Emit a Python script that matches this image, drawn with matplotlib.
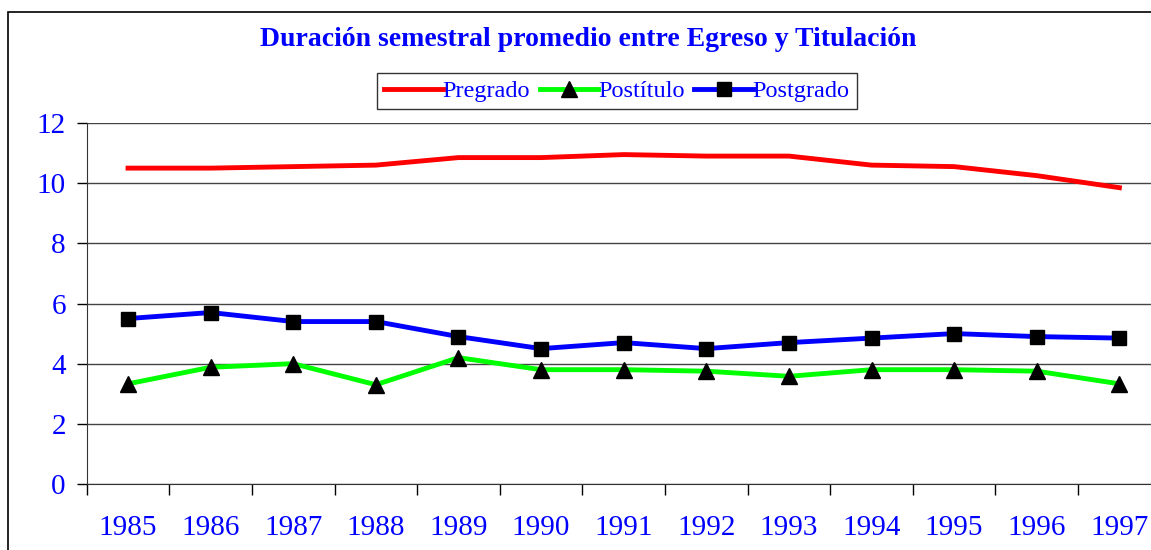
import numpy as np
import matplotlib.pyplot as plt
from matplotlib.patches import Rectangle

years = ['1985', '1986', '1987', '1988', '1989', '1990', '1991',
         '1992', '1993', '1994', '1995', '1996', '1997']
pregrado = [10.5, 10.5, 10.55, 10.6, 10.85, 10.85, 10.95, 10.9, 10.9, 10.6, 10.55, 10.25, 9.85]
postitulo = [3.33, 3.88, 4.0, 3.3, 4.2, 3.8, 3.8, 3.75, 3.58, 3.8, 3.8, 3.75, 3.33]
postgrado = [5.5, 5.7, 5.4, 5.4, 4.9, 4.5, 4.7, 4.5, 4.7, 4.85, 5.0, 4.9, 4.85]

plt.rcParams['font.family'] = ['Liberation Serif', 'DejaVu Serif']
azul = '#0000FF'

fig = plt.figure(figsize=(11.51, 5.5), dpi=100)
W, H = 1151, 550

# marco del area del grafico
fig.patches.append(Rectangle((8 / W, -0.1), 1.2, 1 - 12 / H + 0.1,
                             transform=fig.transFigure, fill=False,
                             edgecolor='black', linewidth=1.2))

ax = fig.add_axes([86.7 / W, 66 / H, 1074 / W, 361 / H])
x = np.arange(len(years))

ax.plot(x, pregrado, color='#FF0000', lw=3.5, label='Pregrado', zorder=3)
ax.plot(x, postitulo, color='#00FF00', lw=3.5, marker='^', ms=11,
        mfc='black', mec='black', label='Postítulo', zorder=3)
ax.plot(x, postgrado, color=azul, lw=3.5, marker='s', ms=10,
        mfc='black', mec='black', label='Postgrado', zorder=3)

ax.set_xlim(-0.5, len(years) - 0.5)
ax.set_ylim(0, 12)
ax.set_yticks(range(0, 13, 2))
ax.yaxis.grid(True, color='#444444', lw=1)
ax.set_axisbelow(True)

ax.set_xticks(x)
ax.set_xticklabels(years)
ax.set_xticks(np.arange(-0.5, len(years), 1), minor=True)
ax.tick_params(axis='x', which='major', length=0, pad=22, labelsize=21, labelcolor=azul)
ax.tick_params(axis='x', which='minor', length=8, width=1)
ax.tick_params(axis='y', length=7, width=1, pad=8, labelsize=21, labelcolor=azul)

for s in ['top', 'right']:
    ax.spines[s].set_visible(False)
ax.spines['left'].set_color('#333333')
ax.spines['bottom'].set_color('#333333')

fig.text(588 / W, 1 - 40 / H, 'Duración semestral promedio entre Egreso y Titulación',
         ha='center', va='center', fontsize=20, fontweight='bold', color=azul)

leg = fig.legend(loc='center', bbox_to_anchor=(617 / W, 1 - 91 / H), ncol=3,
                 fontsize=17.5, frameon=True, fancybox=False, edgecolor='black',
                 handlelength=2.4, handletextpad=0.0, columnspacing=0.4,
                 borderpad=0.3, borderaxespad=0)
leg.get_frame().set_linewidth(1)
for t in leg.get_texts():
    t.set_color(azul)

fig.savefig('out.png', dpi=100)
